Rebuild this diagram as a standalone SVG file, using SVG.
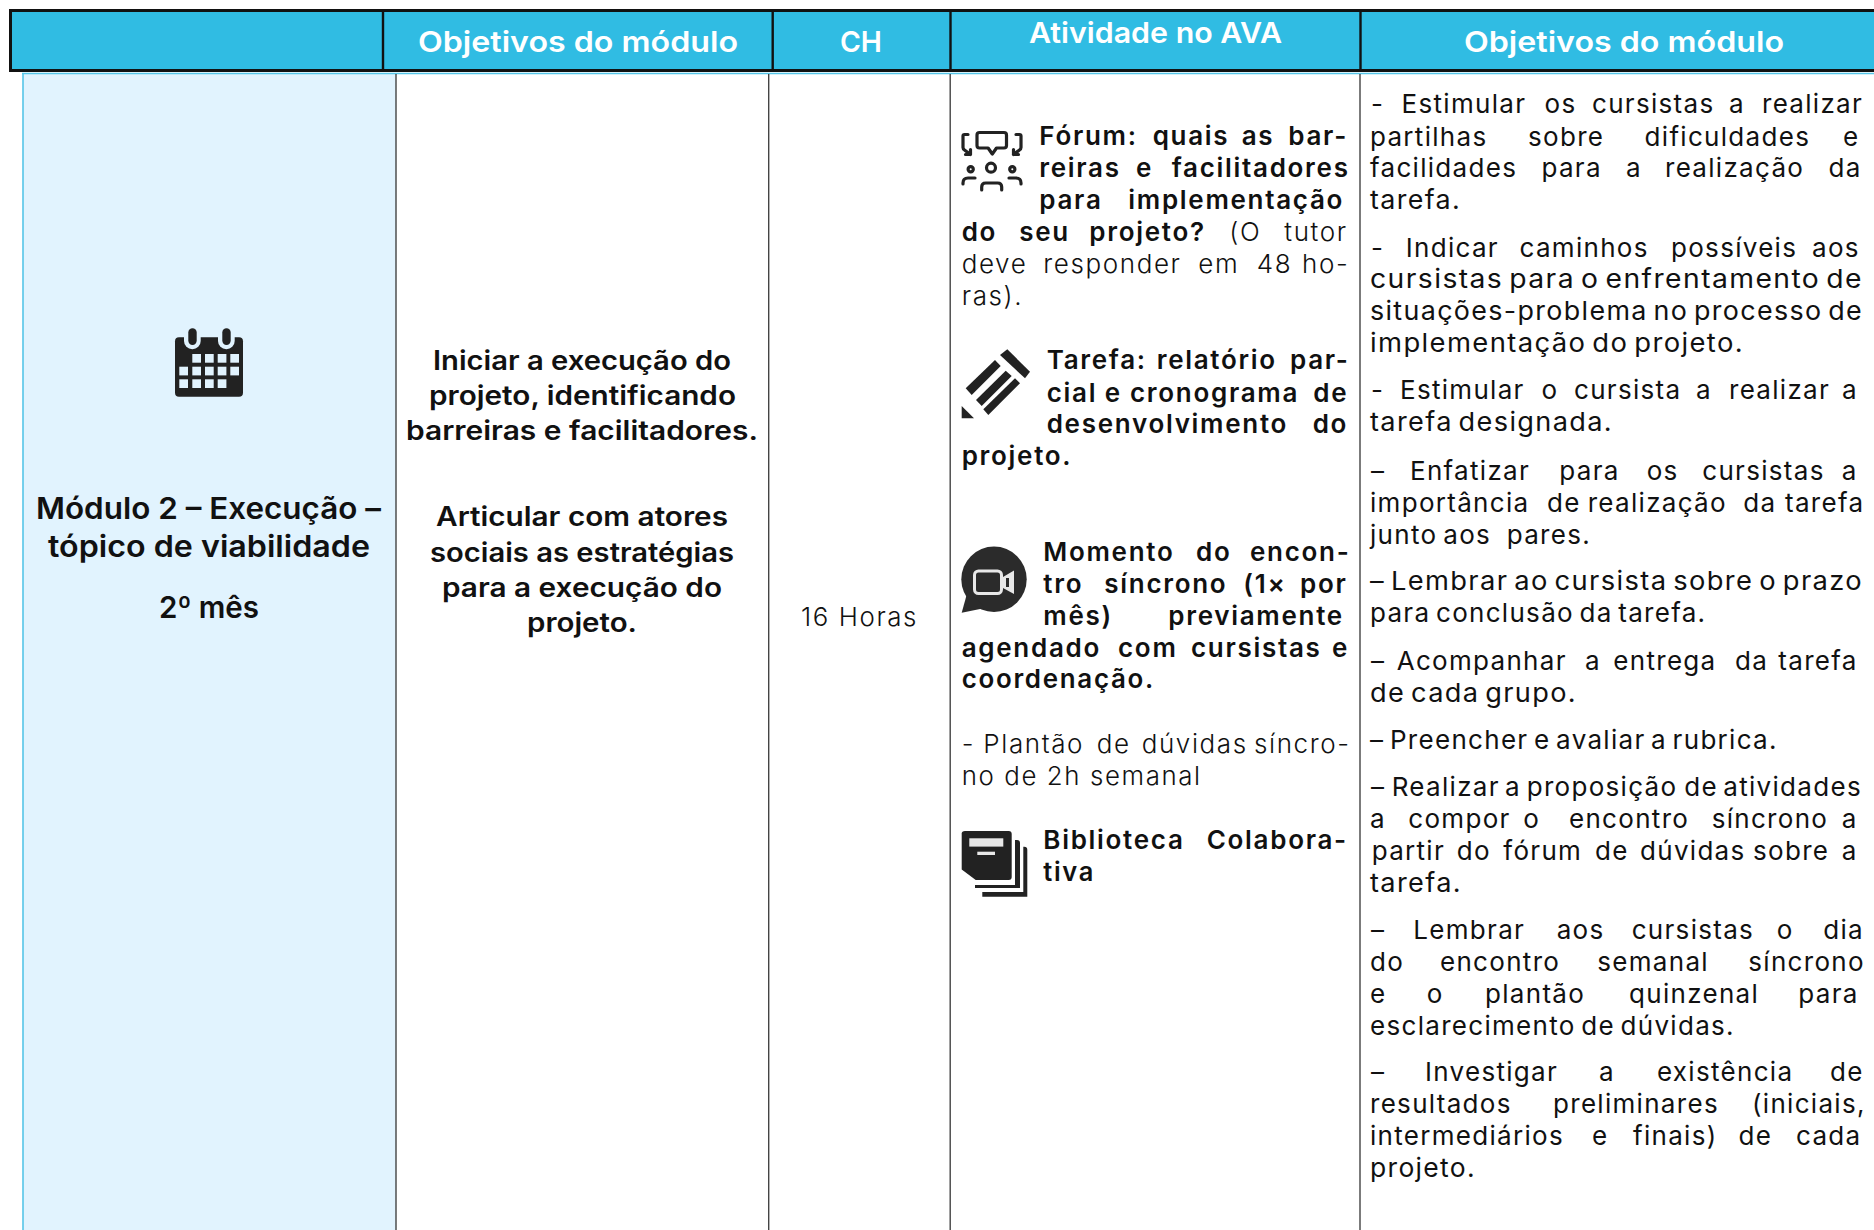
<svg xmlns="http://www.w3.org/2000/svg" width="1874" height="1230" viewBox="0 0 1874 1230">
<style>
text{font-family:"Inter","Noto Sans","Liberation Sans",sans-serif;fill:#111;white-space:pre}
.h{font-size:29px;font-weight:600;fill:#fff}
.m{font-size:30px;font-weight:600}
.c{font-size:26.5px;font-weight:600}
.a{font-size:26px;font-weight:600;letter-spacing:1.700px}
.l{font-size:26px;font-weight:300;letter-spacing:1.600px}
.r{font-size:26px;font-weight:400;letter-spacing:1.300px;word-spacing:-3px}
.k{fill:#222}
.bl{fill:#E1F3FE}
</style>
<rect width="1874" height="1230" fill="#fff"/>
<g id="header">
<rect x="10.500" y="10.500" width="1870" height="60" fill="#30BCE3" stroke="#111" stroke-width="3"/>
<path d="M383 11V70M772.700 11V70M950.500 11V70M1360.500 11V70" stroke="#111" stroke-width="2.400" fill="none"/>
<text class="h" x="418" y="52" textLength="320" lengthAdjust="spacingAndGlyphs">Objetivos do módulo</text>
<text class="h" x="840" y="52" textLength="42" lengthAdjust="spacingAndGlyphs">CH</text>
<text class="h" x="1029" y="42.700" textLength="253" lengthAdjust="spacingAndGlyphs">Atividade no AVA</text>
<text class="h" x="1464" y="52" textLength="320" lengthAdjust="spacingAndGlyphs">Objetivos do módulo</text>
</g>
<g id="table-lines">
<rect x="23" y="73.500" width="373" height="1157" fill="#E1F3FE"/>
<path d="M22 73.500H1874M23 73.500V1230" stroke="#55C5E8" stroke-width="1.600" fill="none"/>
<path d="M396 74V1230M768.700 74V1230M950.200 74V1230M1360 74V1230" stroke="#444" stroke-width="1.400" fill="none"/>
</g>
<g id="modulo">
<g id="icon-calendar">
<rect x="175" y="337.300" width="68" height="59.400" rx="4" class="k"/>
<rect x="184" y="325" width="16.700" height="24.300" rx="8.300" class="bl"/>
<rect x="218" y="325" width="16.700" height="24.300" rx="8.300" class="bl"/>
<rect x="184" y="325" width="16.700" height="12" class="bl"/>
<rect x="218" y="325" width="16.700" height="12" class="bl"/>
<rect x="188.300" y="328.300" width="8.400" height="16.700" rx="4.200" class="k"/>
<rect x="222.300" y="328.300" width="8.400" height="16.700" rx="4.200" class="k"/>
<g class="bl">
<rect x="192.300" y="354" width="8.700" height="8.700"/><rect x="205" y="354" width="8.700" height="8.700"/><rect x="217.700" y="354" width="8.700" height="8.700"/><rect x="230.300" y="354" width="8.700" height="8.700"/>
<rect x="179.300" y="366.700" width="8.700" height="8.700"/><rect x="192.300" y="366.700" width="8.700" height="8.700"/><rect x="205" y="366.700" width="8.700" height="8.700"/><rect x="217.700" y="366.700" width="8.700" height="8.700"/><rect x="230.300" y="366.700" width="8.700" height="8.700"/>
<rect x="179.300" y="379.300" width="8.700" height="8.700"/><rect x="192.300" y="379.300" width="8.700" height="8.700"/><rect x="205" y="379.300" width="8.700" height="8.700"/><rect x="217.700" y="379.300" width="8.700" height="8.700"/>
</g>
</g>
<text class="m" x="36" y="519" textLength="345" lengthAdjust="spacingAndGlyphs">Módulo 2 – Execução –</text>
<text class="m" x="48" y="557" textLength="322" lengthAdjust="spacingAndGlyphs">tópico de viabilidade</text>
<text class="m" x="159" y="618" textLength="100" lengthAdjust="spacingAndGlyphs">2º mês</text>
</g>
<g id="objetivos">
<text class="c" x="433" y="369.500" textLength="298" lengthAdjust="spacingAndGlyphs">Iniciar a execução do</text>
<text class="c" x="429" y="404.500" textLength="307" lengthAdjust="spacingAndGlyphs">projeto, identificando</text>
<text class="c" x="406" y="440" textLength="352" lengthAdjust="spacingAndGlyphs">barreiras e facilitadores.</text>
<text class="c" x="436" y="526" textLength="292" lengthAdjust="spacingAndGlyphs">Articular com atores</text>
<text class="c" x="430" y="561.500" textLength="304" lengthAdjust="spacingAndGlyphs">sociais as estratégias</text>
<text class="c" x="442" y="597" textLength="280" lengthAdjust="spacingAndGlyphs">para a execução do</text>
<text class="c" x="527" y="632" textLength="110" lengthAdjust="spacingAndGlyphs">projeto.</text>
</g>
<g id="ch">
<text class="l" x="801" y="626" textLength="117" lengthAdjust="spacingAndGlyphs">16 Horas</text>
</g>
<g id="atividade">
<g id="icon-forum" fill="none" stroke="#222" stroke-width="3.200" stroke-linejoin="round" stroke-linecap="round">
<path d="M979.500 132.500h24.500q2.500 0 2.500 2.500v10.500q0 2.500-2.500 2.500h-7.500l-4.200 6-4.200-6h-8.600q-2.500 0-2.500-2.500v-10.500q0-2.500 2.500-2.500z"/>
<path d="M968 134.500h-3.500q-1.500 0-1.500 1.500v11.500q0 1.500 1.500 2.500l6 4.500M970.500 149.500v5h-5"/>
<path d="M1016 134.500h3.500q1.500 0 1.500 1.500v11.500q0 1.500-1.500 2.500l-6 4.500M1013.500 149.500v5h5"/>
<circle cx="991" cy="167.700" r="4.500"/>
<circle cx="970.700" cy="169.300" r="2.600"/>
<circle cx="1012.300" cy="169.300" r="2.600"/>
<path d="M981.700 190v-3q0-4 4-4h12q4 0 4 4v3"/>
<path d="M963 184v-1q0-5 5-5h7"/>
<path d="M1021 184v-1q0-5-5-5h-7"/>
</g>
<g id="icon-pencil" class="k">
<polygon points="1007.300,349.300 1030,371.700 1025,378.300 1000,355"/>
<polygon points="965.700,388.300 995,360 1000.700,366 971.700,395"/>
<polygon points="976,400 1005.700,370.700 1011.700,376 981.700,406"/>
<polygon points="983.300,409.300 1015,378.300 1020,383.300 988.300,415"/>
<polygon points="961.700,406 974,418.300 961.700,418.300"/>
</g>
<g id="icon-video">
<circle cx="994" cy="579.300" r="32.700" fill="#2b2b2b"/>
<polygon points="961.700,612.700 968,590 985,608" fill="#2b2b2b"/>
<rect x="974.500" y="571" width="27" height="22.500" rx="4" fill="#2b2b2b" stroke="#E8E8E8" stroke-width="3"/>
<polygon points="1003,577 1014,570.500 1014,594 1003,588" fill="#E8E8E8"/>
<rect x="1006" y="578" width="3" height="9" fill="#2b2b2b"/>
</g>
<g id="icon-books">
<path d="M965 831h43.700q3 0 3 3v43q0 3-3 3h-33l-14-10.500v-36q0-2.500 3.300-2.500z" class="k"/>
<path d="M1015 840h2q3 0 3 3v45h-45v-3h40z" class="k"/>
<path d="M1023.300 846.700h1q3 0 3 3v47h-45v-4.700h41z" class="k"/>
<rect x="969.300" y="838.300" width="34" height="8.300" fill="#E8E8E8"/>
<rect x="977.300" y="851.700" width="17.700" height="3.300" fill="#E8E8E8"/>
</g>
<text class="a" y="145"><tspan x="1039.300">Fórum: </tspan><tspan x="1152.700">quais </tspan><tspan x="1241.700">as </tspan><tspan x="1288.300">bar-</tspan></text>
<text class="a" y="177"><tspan x="1039.300">reiras </tspan><tspan x="1136">e </tspan><tspan x="1171.700">facilitadores</tspan></text>
<text class="a" y="209"><tspan x="1039.300">para </tspan><tspan x="1128.300">implementação</tspan></text>
<text y="241"><tspan class="a" x="961.700">do </tspan><tspan class="a" x="1019.300">seu </tspan><tspan class="a" x="1089.300">projeto? </tspan><tspan class="l" x="1229.300">(O </tspan><tspan class="l" x="1284.300">tutor</tspan></text>
<text class="l" y="273"><tspan x="961.700">deve </tspan><tspan x="1043.300">responder </tspan><tspan x="1198.300">em </tspan><tspan x="1256.700">48 </tspan><tspan x="1302">ho-</tspan></text>
<text class="l" x="961.700" y="305">ras).</text>
<text class="a" y="369"><tspan x="1046.700">Tarefa: </tspan><tspan x="1156.700">relatório </tspan><tspan x="1290">par-</tspan></text>
<text class="a" y="401.700"><tspan x="1046.700">cial </tspan><tspan x="1104.700">e </tspan><tspan x="1130">cronograma </tspan><tspan x="1313.300">de</tspan></text>
<text class="a" y="433.300"><tspan x="1046.700">desenvolvimento </tspan><tspan x="1312.700">do</tspan></text>
<text class="a" x="961.700" y="465">projeto.</text>
<text class="a" y="560.700"><tspan x="1043.300">Momento </tspan><tspan x="1196">do </tspan><tspan x="1250">encon-</tspan></text>
<text class="a" y="593"><tspan x="1043.300">tro </tspan><tspan x="1104.300">síncrono </tspan><tspan x="1243.300">(1× </tspan><tspan x="1300">por</tspan></text>
<text class="a" y="625"><tspan x="1043.300">mês) </tspan><tspan x="1168.300">previamente</tspan></text>
<text class="a" y="656.700"><tspan x="961.700">agendado </tspan><tspan x="1118">com </tspan><tspan x="1191">cursistas </tspan><tspan x="1332">e</tspan></text>
<text class="a" x="961.700" y="688.300" textLength="193.300" lengthAdjust="spacingAndGlyphs">coordenação.</text>
<text class="l" y="752.700"><tspan x="961.700">- </tspan><tspan x="983.300">Plantão </tspan><tspan x="1096.700">de </tspan><tspan x="1141.700">dúvidas </tspan><tspan x="1254">síncro-</tspan></text>
<text class="l" x="961.700" y="785" textLength="240" lengthAdjust="spacingAndGlyphs">no de 2h semanal</text>
<text class="a" y="849.300"><tspan x="1043.300">Biblioteca </tspan><tspan x="1206.700">Colabora-</tspan></text>
<text class="a" x="1043.300" y="880.700" textLength="51.700" lengthAdjust="spacingAndGlyphs">tiva</text>
</g>
<g id="tutor">
<text class="r" y="113.300"><tspan x="1371">- </tspan><tspan x="1401.600">Estimular </tspan><tspan x="1544.500">os </tspan><tspan x="1592">cursistas </tspan><tspan x="1729">a </tspan><tspan x="1762">realizar</tspan></text>
<text class="r" y="145.700"><tspan x="1370">partilhas </tspan><tspan x="1528">sobre </tspan><tspan x="1644.600">dificuldades </tspan><tspan x="1843">e</tspan></text>
<text class="r" y="177.300"><tspan x="1370">facilidades </tspan><tspan x="1541.500">para </tspan><tspan x="1626">a </tspan><tspan x="1665">realização </tspan><tspan x="1828.600">da</tspan></text>
<text class="r" x="1370" y="209.300" textLength="91" lengthAdjust="spacingAndGlyphs">tarefa.</text>
<text class="r" y="256.700"><tspan x="1371">- </tspan><tspan x="1405.800">Indicar </tspan><tspan x="1519.500">caminhos </tspan><tspan x="1671">possíveis </tspan><tspan x="1812">aos</tspan></text>
<text class="r" x="1370" y="288.300" textLength="493" lengthAdjust="spacingAndGlyphs">cursistas para o enfrentamento de</text>
<text class="r" x="1370" y="320" textLength="493" lengthAdjust="spacingAndGlyphs">situações-problema no processo de</text>
<text class="r" x="1370" y="352.300" textLength="374" lengthAdjust="spacingAndGlyphs">implementação do projeto.</text>
<text class="r" y="399.300"><tspan x="1371">- </tspan><tspan x="1400">Estimular </tspan><tspan x="1541.500">o </tspan><tspan x="1574">cursista </tspan><tspan x="1696">a </tspan><tspan x="1729">realizar </tspan><tspan x="1842">a</tspan></text>
<text class="r" x="1370" y="431" textLength="243" lengthAdjust="spacingAndGlyphs">tarefa designada.</text>
<text class="r" y="479.500"><tspan x="1371">– </tspan><tspan x="1410">Enfatizar </tspan><tspan x="1559.300">para </tspan><tspan x="1646.700">os </tspan><tspan x="1702.300">cursistas </tspan><tspan x="1841.700">a</tspan></text>
<text class="r" y="511.500"><tspan x="1370">importância </tspan><tspan x="1547">de </tspan><tspan x="1587.700">realização </tspan><tspan x="1743.300">da </tspan><tspan x="1785">tarefa</tspan></text>
<text class="r" y="543.500"><tspan x="1370">junto </tspan><tspan x="1443.300">aos </tspan><tspan x="1506.700">pares.</tspan></text>
<text class="r" x="1370" y="589.500" textLength="493" lengthAdjust="spacingAndGlyphs">– Lembrar ao cursista sobre o prazo</text>
<text class="r" x="1370" y="621.500">para conclusão da tarefa.</text>
<text class="r" y="669.500"><tspan x="1371">– </tspan><tspan x="1396.700">Acompanhar </tspan><tspan x="1585">a </tspan><tspan x="1613.300">entrega </tspan><tspan x="1735">da </tspan><tspan x="1778.300">tarefa</tspan></text>
<text class="r" x="1370" y="701.500" textLength="207" lengthAdjust="spacingAndGlyphs">de cada grupo.</text>
<text class="r" x="1370" y="748.500">– Preencher e avaliar a rubrica.</text>
<text class="r" y="796"><tspan x="1371">–</tspan><tspan x="1391.700">Realizar </tspan><tspan x="1505">a </tspan><tspan x="1526.700">proposição </tspan><tspan x="1684.300">de </tspan><tspan x="1723.300">atividades</tspan></text>
<text class="r" y="828"><tspan x="1370">a </tspan><tspan x="1408.300">compor </tspan><tspan x="1523.300">o </tspan><tspan x="1569">encontro </tspan><tspan x="1711.700">síncrono </tspan><tspan x="1841.700">a</tspan></text>
<text class="r" y="860"><tspan x="1371.700">partir </tspan><tspan x="1456.700">do </tspan><tspan x="1503.300">fórum </tspan><tspan x="1595">de </tspan><tspan x="1640">dúvidas </tspan><tspan x="1753">sobre </tspan><tspan x="1841.700">a</tspan></text>
<text class="r" x="1370" y="892" textLength="92" lengthAdjust="spacingAndGlyphs">tarefa.</text>
<text class="r" y="938.500"><tspan x="1371">– </tspan><tspan x="1413.300">Lembrar </tspan><tspan x="1556.700">aos </tspan><tspan x="1631.700">cursistas </tspan><tspan x="1776.700">o </tspan><tspan x="1823.300">dia</tspan></text>
<text class="r" y="970.500"><tspan x="1370">do </tspan><tspan x="1440">encontro </tspan><tspan x="1597.300">semanal </tspan><tspan x="1748.300">síncrono</tspan></text>
<text class="r" y="1002.500"><tspan x="1370">e </tspan><tspan x="1426.700">o </tspan><tspan x="1485">plantão </tspan><tspan x="1629">quinzenal </tspan><tspan x="1798.300">para</tspan></text>
<text class="r" x="1370" y="1034.500">esclarecimento de dúvidas.</text>
<text class="r" y="1080.700"><tspan x="1371">– </tspan><tspan x="1425">Investigar </tspan><tspan x="1599">a </tspan><tspan x="1657">existência </tspan><tspan x="1830">de</tspan></text>
<text class="r" y="1113"><tspan x="1370">resultados </tspan><tspan x="1553">preliminares </tspan><tspan x="1752">(iniciais,</tspan></text>
<text class="r" y="1145"><tspan x="1370">intermediários </tspan><tspan x="1592">e </tspan><tspan x="1633">finais) </tspan><tspan x="1738.500">de </tspan><tspan x="1796">cada</tspan></text>
<text class="r" x="1370" y="1176.700" textLength="106" lengthAdjust="spacingAndGlyphs">projeto.</text>
</g>
</svg>
